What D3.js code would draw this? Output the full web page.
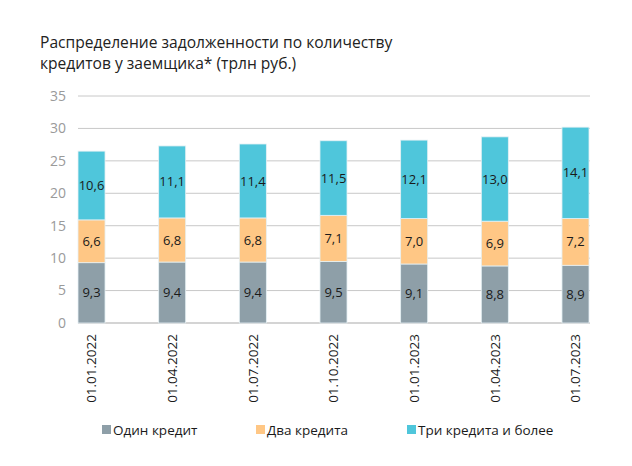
<!DOCTYPE html>
<html><head><meta charset="utf-8">
<script src="https://cdn.jsdelivr.net/npm/d3@7"></script>
<style>body{margin:0;background:#fff;}text{font-family:"Open Sans","Noto Sans",sans-serif;}</style>
</head><body><svg id="c" width="632" height="466"></svg>
<script>
const categories = ["01.01.2022","01.04.2022","01.07.2022","01.10.2022","01.01.2023","01.04.2023","01.07.2023"];
const seriesNames = ["Один кредит","Два кредита","Три кредита и более"];
const oneCredit = [9.3,9.4,9.4,9.5,9.1,8.8,8.9];
const twoCredits = [6.6,6.8,6.8,7.1,7.0,6.9,7.2];
const threePlus = [10.6,11.1,11.4,11.5,12.1,13.0,14.1];
const yTicks = [0,5,10,15,20,25,30,35];
const colors = ["#8E9FA8","#FFC785","#4FC6DB"];

const svg = d3.select("#c");
const x = d3.scaleBand().domain(categories).range([78,589]).paddingInner(0.665).paddingOuter(0);
const y = d3.scaleLinear().domain([0,35]).range([323,96]);

svg.append("text").attr("x",40).attr("y",48).attr("font-size",15.6).attr("fill","#222").text("Распределение задолженности по количеству");
svg.append("text").attr("x",40).attr("y",69).attr("font-size",15.6).attr("fill","#222").text("кредитов у заемщика* (трлн руб.)");

// grid
svg.append("g").selectAll("line").data(yTicks).join("line")
  .attr("x1",78).attr("x2",590).attr("y1",d=>y(d)).attr("y2",d=>y(d))
  .attr("stroke",d=>d===0?"#d4d4d4":"#c8c8c8").attr("stroke-width",d=>d===0?2:1);
svg.append("g").selectAll("text").data(yTicks).join("text")
  .attr("x",66).attr("y",d=>y(d)).attr("dy","0.35em").attr("text-anchor","end")
  .attr("font-size",14).attr("fill","#9a9a9a").text(d=>d);

const data = categories.map((c,i)=>({cat:c, s0:oneCredit[i], s1:twoCredits[i], s2:threePlus[i]}));
const stack = d3.stack().keys(["s0","s1","s2"])(data);
const fmt = v => v.toFixed(1).replace(".",",");
stack.forEach((layer,k)=>{
  const g = svg.append("g");
  g.selectAll("rect").data(layer).join("rect")
    .attr("x",d=>x(d.data.cat)).attr("width",x.bandwidth())
    .attr("y",d=>y(d[1])).attr("height",d=>y(d[0])-y(d[1]))
    .attr("fill",colors[k]).attr("stroke","#e6f1f4").attr("stroke-width",0.8);
  g.selectAll("text").data(layer).join("text")
    .attr("x",d=>x(d.data.cat)+x.bandwidth()/2).attr("y",d=>y((d[0]+d[1])/2)).attr("dy","0.35em")
    .attr("text-anchor","middle").attr("font-size",13).attr("fill","#1a1a1a")
    .text(d=>fmt(d[1]-d[0]));
});

// x labels
svg.append("g").selectAll("text").data(categories).join("text")
  .attr("transform",d=>`translate(${x(d)+x.bandwidth()/2},334) rotate(-90)`)
  .attr("dy","0.35em").attr("text-anchor","end").attr("font-size",13.5).attr("fill","#1a1a1a").text(d=>d);

// legend
const legX = [102,256,407];
const lg = svg.append("g");
seriesNames.forEach((n,i)=>{
  lg.append("rect").attr("x",legX[i]).attr("y",425).attr("width",9).attr("height",9).attr("fill",colors[i]);
  lg.append("text").attr("x",legX[i]+11).attr("y",430).attr("dy","0.35em").attr("font-size",13.5).attr("fill","#1a1a1a").text(n);
});
</script></body></html>
